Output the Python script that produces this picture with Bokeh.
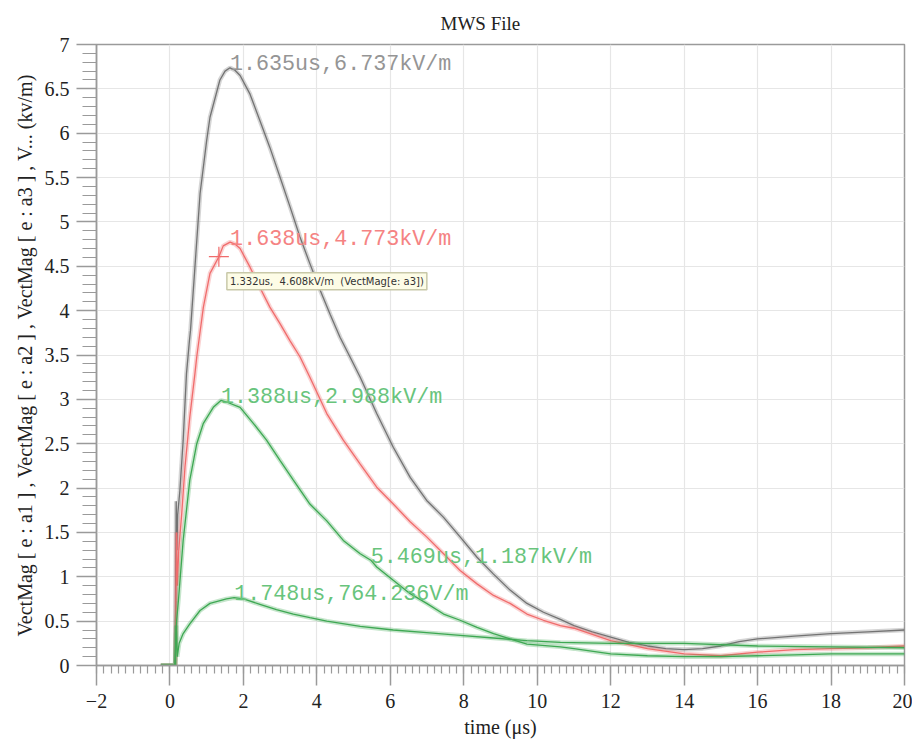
import numpy as np
from bokeh.plotting import figure
from bokeh.models import Range1d, FixedTicker, Label
from bokeh.core.properties import value
from bokeh.embed import file_html
from bokeh.resources import INLINE

# ---------------- data ----------------
gray_t = [-0.25, 0.14, 0.17, 0.19, 0.21, 0.27, 0.36, 0.45, 0.53, 0.56, 0.82, 1.0, 1.09, 1.36,
          1.5, 1.635, 1.77, 1.91, 2.18, 2.45, 2.72, 3.0, 3.27, 3.54, 3.81, 4.09, 4.36, 4.63,
          4.9, 5.18, 5.63, 6.08, 6.54, 6.99, 7.45, 7.9, 8.36, 8.81, 9.26, 9.72, 10.17, 10.63,
          11.0, 11.5, 12.0, 12.5, 13.0, 13.5, 14.0, 14.5, 15.0, 15.5, 16.0, 17.0, 18.0, 19.0,
          20.0]
gray_v = [0, 0, 1.85, 1.3, 1.7, 1.97, 2.54, 3.29, 3.66, 3.78, 5.32, 5.92, 6.18, 6.6,
          6.70, 6.737, 6.71, 6.65, 6.44, 6.14, 5.84, 5.5, 5.17, 4.83, 4.53, 4.23, 3.96, 3.70,
          3.48, 3.25, 2.84, 2.46, 2.12, 1.86, 1.67, 1.45, 1.22, 1.03, 0.85, 0.70, 0.60, 0.52,
          0.45, 0.38, 0.32, 0.26, 0.22, 0.19, 0.18, 0.19, 0.22, 0.27, 0.30, 0.33, 0.36, 0.38,
          0.40]

red_t = [-0.25, 0.15, 0.18, 0.2, 0.24, 0.32, 0.41, 0.54, 0.68, 0.73, 0.91, 1.09, 1.332, 1.45,
         1.638, 1.77, 1.91, 2.18, 2.45, 2.72, 3.0, 3.27, 3.54, 3.81, 4.27, 4.72, 5.18, 5.63,
         6.08, 6.54, 6.99, 7.45, 7.9, 8.36, 8.81, 9.26, 9.72, 10.17, 10.63, 11.0, 12.0, 13.0,
         14.0, 15.0, 16.0, 17.0, 18.0, 19.0, 20.0]
red_v = [0, 0, 1.5, 0.9, 1.3, 1.71, 2.24, 2.8, 3.29, 3.48, 4.04, 4.42, 4.608, 4.73,
         4.773, 4.75, 4.70, 4.49, 4.26, 4.04, 3.85, 3.66, 3.48, 3.25, 2.84, 2.54, 2.27, 2.01,
         1.82, 1.62, 1.45, 1.26, 1.07, 0.92, 0.79, 0.70, 0.58, 0.51, 0.45, 0.42, 0.28, 0.19,
         0.13, 0.11, 0.15, 0.18, 0.19, 0.20, 0.22]

green1_t = [-0.25, 0.14, 0.18, 0.23, 0.36, 0.54, 0.73, 0.91, 1.18, 1.388, 1.54, 1.91, 2.27,
            2.63, 3.0, 3.36, 3.81, 4.27, 4.72, 5.18, 5.469, 5.63, 6.08, 6.54, 6.99, 7.45, 7.9,
            8.36, 8.81, 9.26, 9.72, 10.63, 11.0, 12.0, 13.0, 14.0, 15.0, 16.0, 17.0, 18.0,
            19.0, 20.0]
green1_v = [0, 0, 0.5, 0.73, 1.41, 2.09, 2.5, 2.73, 2.91, 2.988, 2.97, 2.91, 2.73,
            2.54, 2.31, 2.09, 1.82, 1.63, 1.41, 1.26, 1.187, 1.11, 0.96, 0.81, 0.70, 0.58, 0.51,
            0.43, 0.36, 0.30, 0.24, 0.21, 0.19, 0.13, 0.11, 0.10, 0.10, 0.11, 0.12, 0.13,
            0.13, 0.13]

green2_t = [-0.25, 0.14, 0.17, 0.2, 0.25, 0.36, 0.54, 0.82, 1.09, 1.54, 1.748, 2.0, 2.45,
            2.9, 3.36, 3.81, 4.27, 5.18, 6.08, 6.99, 7.9, 8.81, 9.72, 10.63, 12.0, 14.0, 16.0,
            18.0, 20.0]
green2_v = [0, 0, 0.45, 0.1, 0.25, 0.36, 0.47, 0.62, 0.70, 0.75, 0.764, 0.75, 0.69,
            0.63, 0.58, 0.54, 0.50, 0.44, 0.40, 0.37, 0.34, 0.31, 0.28, 0.26, 0.25, 0.25, 0.22,
            0.21, 0.20]

# peak / marker annotations
ann_t = [1.635, 1.638, 1.388, 5.469, 1.748]
ann_v = [6.737, 4.773, 2.988, 1.187, 0.764]
ann_text = ["1.635us,6.737kV/m", "1.638us,4.773kV/m", "1.388us,2.988kV/m",
            "5.469us,1.187kV/m", "1.748us,764.236V/m"]
ann_color = ["#959595", "#f58383", "#68c47c", "#68c47c", "#68c47c"]

cursor_t = 1.332
cursor_v = 4.608
cursor_text = "1.332us,\u00a0\u00a04.608kV/m\u00a0\u00a0(VectMag[e: a3])"

x_ticks = [-2, 0, 2, 4, 6, 8, 10, 12, 14, 16, 18, 20]
x_tick_labels = ["\u22122", "0", "2", "4", "6", "8", "10", "12", "14", "16", "18", "20"]
y_ticks = [0, 0.5, 1, 1.5, 2, 2.5, 3, 3.5, 4, 4.5, 5, 5.5, 6, 6.5, 7]
y_tick_labels = ["0", "0.5", "1", "1.5", "2", "2.5", "3", "3.5", "4", "4.5", "5", "5.5",
                 "6", "6.5", "7"]

# ---------------- figure ----------------
SERIF = "Liberation Serif"
AXC = "#9a9a9a"

p = figure(width=912, height=743, output_backend="svg", toolbar_location=None,
           x_range=Range1d(-2, 20), y_range=Range1d(0, 7),
           min_border_left=96, min_border_right=8, min_border_top=44, min_border_bottom=78,
           title="MWS File")
p.background_fill_color = "white"
p.border_fill_color = "white"
p.outline_line_color = AXC
p.outline_line_width = 1.5

p.title.align = "left"
p.title.offset = 344
p.title.standoff = 21
p.title.text_font = SERIF
p.title.text_font_size = "19px"
p.title.text_font_style = "normal"
p.title.text_color = "#222222"

x_minor = list(np.round(np.arange(-2, 20.001, 0.2), 3))
y_minor = list(np.round(np.arange(0, 7.001, 0.1), 3))
p.xaxis.ticker = FixedTicker(ticks=x_ticks, minor_ticks=x_minor)
p.yaxis.ticker = FixedTicker(ticks=y_ticks, minor_ticks=y_minor)
p.xaxis.major_label_overrides = {t: l for t, l in zip(x_ticks, x_tick_labels)}
p.yaxis.major_label_overrides = {t: l for t, l in zip(y_ticks, y_tick_labels)}
p.xgrid.ticker = FixedTicker(ticks=x_ticks)
p.ygrid.ticker = FixedTicker(ticks=y_ticks)
p.grid.grid_line_color = "#e6e6e6"
p.grid.grid_line_width = 1.2

for ax in (p.xaxis, p.yaxis):
    ax.axis_line_color = AXC
    ax.axis_line_width = 1.5
    ax.major_tick_line_color = AXC
    ax.major_tick_line_width = 1.5
    ax.minor_tick_line_color = AXC
    ax.minor_tick_line_width = 1.2
    ax.major_tick_in = 0
    ax.minor_tick_in = 0
    ax.major_tick_out = 20
    ax.major_label_text_font = SERIF
    ax.major_label_text_font_size = "20px"
    ax.major_label_text_color = "#222222"
    ax.axis_label_text_font = SERIF
    ax.axis_label_text_font_size = "20px"
    ax.axis_label_text_font_style = "normal"
    ax.axis_label_text_color = "#222222"
p.xaxis.minor_tick_out = 8
p.yaxis.minor_tick_out = 14
p.xaxis.major_label_standoff = 8
p.yaxis.major_label_standoff = 7
p.xaxis.axis_label_standoff = 5
p.yaxis.axis_label_standoff = 6
p.xaxis.axis_label = "time (\u03bcs)"
p.yaxis.axis_label = "VectMag [ e : a1 ] , VectMag [ e : a2 ] , VectMag [ e : a3 ] , V... (kv/m)"

series = [
    (gray_t, gray_v, "#737373"),
    (red_t, red_v, "#f06c6c"),
    (green1_t, green1_v, "#3ea853"),
    (green2_t, green2_v, "#3ea853"),
]
for t, v, c in series:
    p.line(t, v, line_color=c, line_width=4.5, line_alpha=0.3)
    p.line(t, v, line_color=c, line_width=1.3)

p.text(x=ann_t, y=ann_v, text=ann_text, text_color=ann_color,
       text_font=value("Liberation Mono"), text_font_size="21.7px",
       text_align="left", text_baseline="alphabetic", y_offset=-3)

p.scatter([cursor_t], [cursor_v], marker="cross", size=20, line_color="#f06c6c", line_width=1.2)
lab = Label(x=cursor_t, y=cursor_v, x_offset=8, y_offset=-16, text=cursor_text,
            text_font="DejaVu Sans", text_font_size="10px", text_color="#333333",
            text_align="left", text_baseline="top",
            background_fill_color="#fdfce6", border_line_color="#c8c8a8", border_line_width=1.5,
            padding=3)
p.add_layout(lab)

open("out.html", "w").write(file_html(p, INLINE))
